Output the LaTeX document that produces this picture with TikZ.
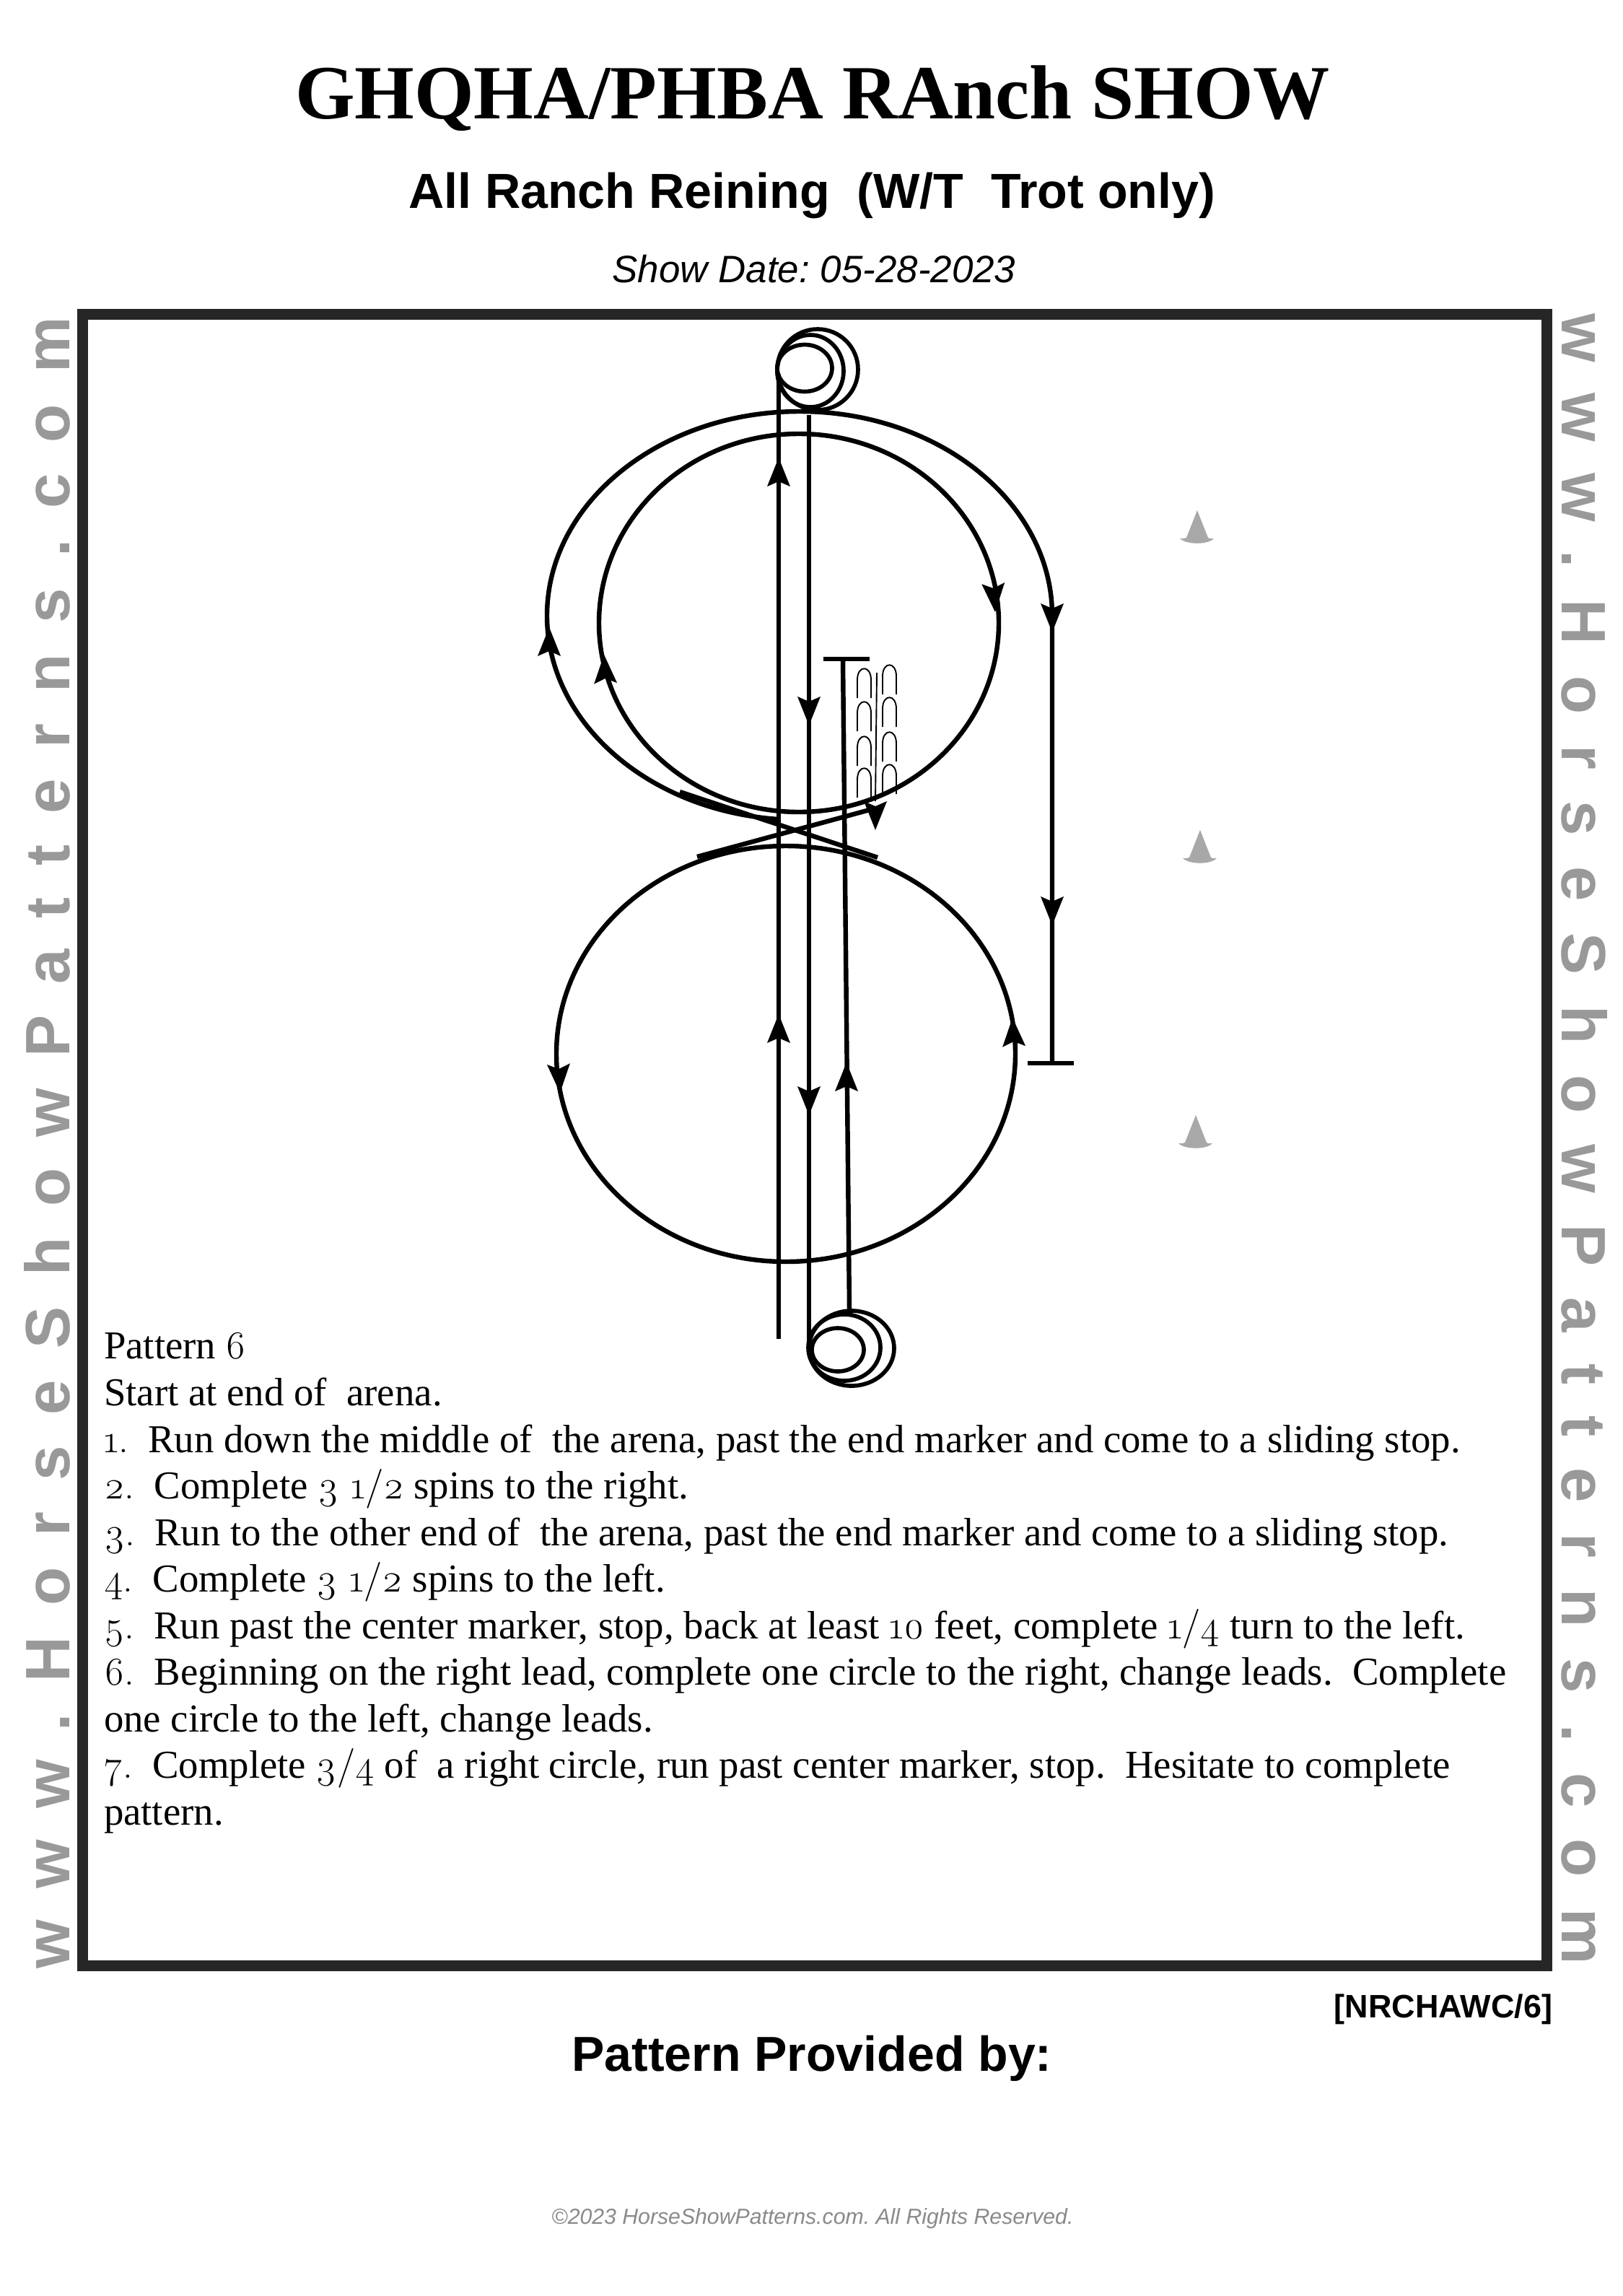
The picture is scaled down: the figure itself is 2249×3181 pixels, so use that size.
\documentclass[tikz,border=0pt]{standalone}
\usepackage{fontspec}
\setmainfont{Liberation Serif}
\setsansfont{Liberation Sans}
\newfontfamily\osn[Numbers=OldStyle]{Latin Modern Roman}
\newfontfamily\sidefont[LetterSpace=49.6]{Liberation Sans}
\newcommand{\ON}[1]{{\osn #1}}
\definecolor{frameC}{HTML}{262626}
\definecolor{coneC}{HTML}{A8A8A8}
\definecolor{sideC}{HTML}{999999}
\definecolor{copyC}{HTML}{8A8A8A}
\tikzset{
 x=0.26458pt,y=-0.26458pt,
 track/.style={draw=black,line width=1.7pt},
 slide/.style={draw=black,line width=0.5pt},
 bodyline/.style={anchor=base west,inner sep=0pt,outer sep=0pt,font=\fontsize{14.5}{16}\selectfont},
 sidetext/.style={anchor=base west,inner sep=0pt,outer sep=0pt,text=sideC,font=\sidefont\bfseries\fontsize{23}{25}\selectfont},
 head/.pic={\fill[black] (0,0) -- (16,40) -- (0,33) -- (-16,40) -- cycle;},
 cone/.pic={\fill[coneC] (0,0) -- (15,38) .. controls (18,40) and (21,39) .. (23,39) .. controls (15,48) and (-15,48) .. (-24,39) .. controls (-21,39) and (-18,40) .. (-15,38) -- cycle;},
 arch/.pic={\draw[slide] (0,41) -- (0,16) .. controls (0,-5) and (19,-5) .. (19,16) -- (19,41);}
}
\begin{document}
\frenchspacing
\begin{tikzpicture}
\useasboundingbox (0,0) rectangle (2249,3181);
\fill[white] (0,0) rectangle (2249,3181);
% titles
\node[font=\fontsize{28.1}{30}\selectfont\bfseries,inner sep=0pt] (title) at (1126,136) {GHQHA/PHBA RAnch SHOW};
\node[font=\sffamily\bfseries\fontsize{18.05}{20}\selectfont,inner sep=0pt] (sub) at (1125,271) {All Ranch Reining\ \ (W/T\ \ Trot only)};
\node[font=\sffamily\itshape\fontsize{14}{16}\selectfont,inner sep=0pt] (date) at (1128,373) {Show Date: 05-28-2023};
% frame
\draw[frameC,line width=3.97pt] (114.5,435.5) rectangle (2143.5,2723.5);
% side text
\node[sidetext,rotate=90] (leftside) at (96,2727) {www.HorseShowPatterns.com};
\node[sidetext,rotate=-90] (rightside) at (2164,434) {www.HorseShowPatterns.com};
% upper outer circle and stop line
\draw[track] (1458,1473) -- (1458,853) arc[start angle=0,end angle=-265,x radius=350,y radius=283];
\draw[track] (1424,1473) -- (1488,1473);
% upper inner circle
\draw[track] (1107,863) ellipse[x radius=277,y radius=262];
% lower circle
\draw[track] (1089,1460) ellipse[x radius=318,y radius=288];
% verticals
\draw[track] (1079,1855) -- (1079,518);
\draw[track] (1121,575) -- (1121,1859);
\draw[track] (1141,913) -- (1205,913);
\draw[track] (1168,913) -- (1177,1816);
% crossing lines
\draw[track] (942,1097) -- (1216,1188);
\draw[track] (966,1187) -- (1205,1122);
% spins
\draw[track,line width=1.5pt] (1133,512) ellipse[x radius=56,y radius=56];
\draw[track,line width=1.5pt] (1123,514) ellipse[x radius=46,y radius=50];
\draw[track,line width=1.5pt] (1115,510) ellipse[x radius=38,y radius=32.5];
\draw[track,line width=1.5pt] (1180,1868) ellipse[x radius=59,y radius=52];
\draw[track,line width=1.5pt] (1170,1867) ellipse[x radius=50,y radius=46];
\draw[track,line width=1.5pt] (1161,1870) ellipse[x radius=36,y radius=30];
% slide marks
\foreach \py in {926,972,1020,1064} \pic at (1188,\py) {arch};
\foreach \py in {921,966,1014,1059} \pic at (1223,\py) {arch};
\draw[slide] (1215,932) -- (1213,1110);
% arrowheads
\pic at (761,869) {head};
\pic[rotate=3] at (837,907) {head};
\pic[rotate=184] at (1379,848) {head};
\pic[rotate=180] at (1458,876) {head};
\pic[rotate=180] at (1458,1282) {head};
\pic at (1079,634) {head};
\pic at (1079,1405) {head};
\pic[rotate=180] at (1121,1005) {head};
\pic[rotate=180] at (1121,1545) {head};
\pic at (1173,1472) {head};
\pic[rotate=183] at (776,1514) {head};
\pic[rotate=3] at (1403,1410) {head};
\pic[rotate=180] at (1213,1150) {head};
% cones
\pic at (1659,707) {cone};
\pic at (1663,1150) {cone};
\pic at (1657,1545) {cone};
% body text
\node[bodyline] (t0) at (144,1882) {Pattern \ON{6}};
\node[bodyline] (t1) at (144,1947) {Start at end of\ \ arena.};
\node[bodyline] (t2) at (144,2012) {\ON{1.}\ \ Run down the middle of\ \ the arena, past the end marker and come to a sliding stop.};
\node[bodyline] (t3) at (144,2076) {\ON{2.}\ \ Complete \ON{3 1/2} spins to the right.};
\node[bodyline] (t4) at (144,2141) {\ON{3.}\ \ Run to the other end of\ \ the arena, past the end marker and come to a sliding stop.};
\node[bodyline] (t5) at (144,2205) {\ON{4.}\ \ Complete \ON{3 1/2} spins to the left.};
\node[bodyline] (t6) at (144,2270) {\ON{5.}\ \ Run past the center marker, stop, back at least \ON{10} feet, complete \ON{1/4} turn to the left.};
\node[bodyline] (t7) at (144,2334) {\ON{6.}\ \ Beginning on the right lead, complete one circle to the right, change leads.\ \ Complete};
\node[bodyline] (t8) at (144,2399) {one circle to the left, change leads.};
\node[bodyline] (t9) at (144,2463) {\ON{7.}\ \ Complete \ON{3/4} of\ \ a right circle, run past center marker, stop.\ \ Hesitate to complete};
\node[bodyline] (t10) at (144,2528) {pattern.};
% footer
\node[anchor=east,font=\sffamily\bfseries\fontsize{11.9}{14}\selectfont,inner sep=0pt] (code) at (2152,2784) {[NRCHAWC/6]};
\node[font=\sffamily\bfseries\fontsize{18}{20}\selectfont,inner sep=0pt] (prov) at (1125,2852) {Pattern Provided by:};
\node[font=\sffamily\itshape\fontsize{8}{10}\selectfont,inner sep=0pt,text=copyC] (copy) at (1126,3074) {©2023 HorseShowPatterns.com. All Rights Reserved.};
\end{tikzpicture}
\end{document}
